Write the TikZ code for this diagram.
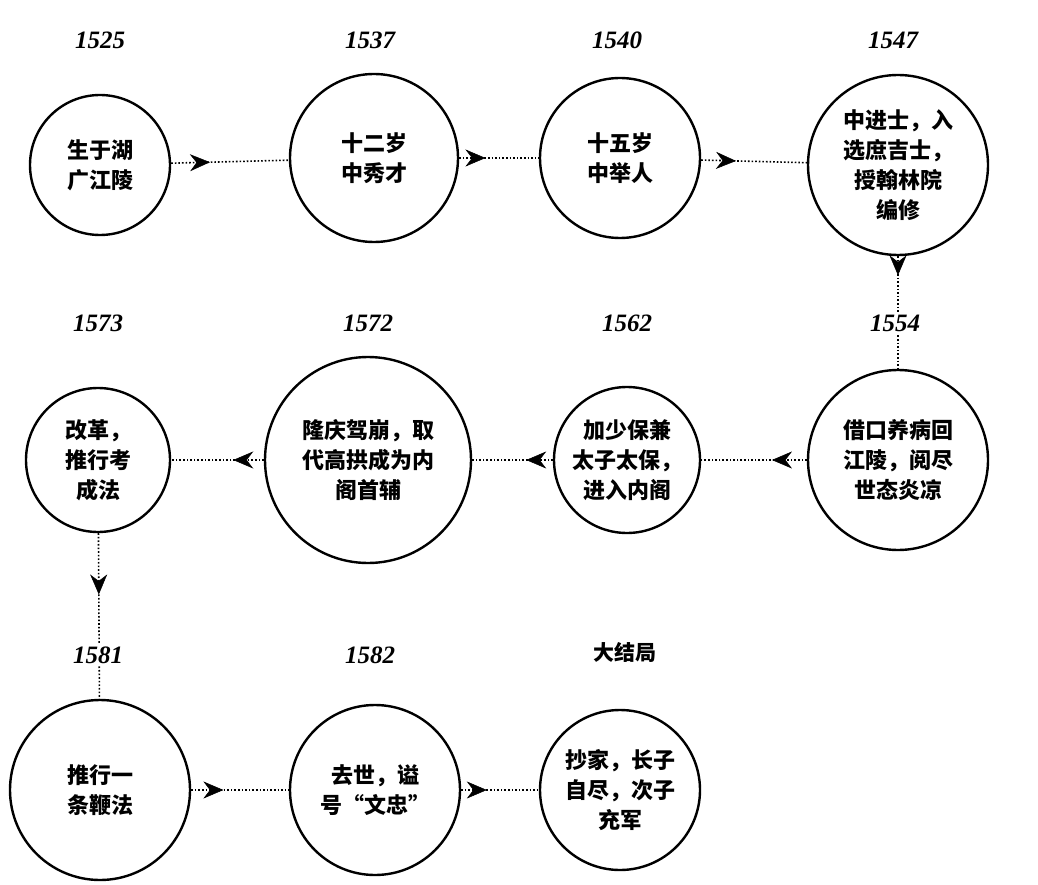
\documentclass[tikz,border=0pt]{standalone}
\usepackage{fontspec}
\newfontfamily\cjk{Noto Sans CJK SC}
\newfontfamily\yearfont{Liberation Serif}
\usetikzlibrary{arrows.meta,decorations.markings}

\tikzset{
	event/.style={circle, draw, line width=2.4pt, align=center, inner sep=0pt,
		font=\cjk\bfseries\fontsize{22}{30}\selectfont},
	year/.style={fill=white, inner sep=3pt, font=\yearfont\bfseries\itshape\fontsize{25}{28}\selectfont},
	link/.style={dotted, line width=1.6pt, postaction={decorate},
		decoration={markings, mark=at position #1 with {\arrow[solid, line width=0.5pt]{Stealth[length=20pt,width=17pt,fill=black]}}}},
	link/.default=0.33
}

\begin{document}
\begin{tikzpicture}[x=1pt,y=-1pt]
		\useasboundingbox (0,0) rectangle (1038,885);

		% circles
		\node[event, minimum size=140pt] (born) at (100,165) {生于湖\\广江陵};
		\node[event, minimum size=168pt] (xiucai) at (374,158) {十二岁\\中秀才};
		\node[event, minimum size=160pt] (juren) at (620,158) {十五岁\\中举人};
		\node[event, minimum size=180pt] (jinshi) at (898,165) {中进士，入\\选庶吉士，\\授翰林院\\编修};
		\node[event, minimum size=180pt] (jiangling) at (898,460) {借口养病回\\江陵，阅尽\\世态炎凉};
		\node[event, minimum size=146pt] (shaobao) at (627,460) {加少保兼\\太子太保，\\进入内阁};
		\node[event, minimum size=206pt] (shoufu) at (368,460) {隆庆驾崩，取\\代高拱成为内\\阁首辅};
		\node[event, minimum size=144pt] (gaige) at (98,460) {改革，\\推行考\\成法};
		\node[event, minimum size=180pt] (bianfa) at (100,790) {推行一\\条鞭法};
		\node[event, minimum size=170pt] (qushi) at (375,790) {去世，谥\\号“文忠”};
		\node[event, minimum size=160pt] (chaojia) at (620,790) {抄家，长子\\自尽，次子\\充军};

		% connectors
		\draw[link] (born) -- (xiucai);
		\draw[link] (xiucai) -- (juren);
		\draw[link] (juren) -- (jinshi);
		\draw[link=0.17] (jinshi) -- (jiangling);
		\draw[link] (jiangling) -- (shaobao);
		\draw[link] (shaobao) -- (shoufu);
		\draw[link] (shoufu) -- (gaige);
		\draw[link=0.37] (gaige) -- (bianfa);
		\draw[link] (bianfa) -- (qushi);
		\draw[link] (qushi) -- (chaojia);

		% years
		\node[year] (y1525) at (100,40) {1525};
		\node[year] (y1537) at (370,40) {1537};
		\node[year] (y1540) at (617,40) {1540};
		\node[year] (y1547) at (893,40) {1547};
		\node[year] (y1554) at (895,323) {1554};
		\node[year] (y1562) at (627,323) {1562};
		\node[year] (y1572) at (368,323) {1572};
		\node[year] (y1573) at (98,323) {1573};
		\node[year] (y1581) at (98,655) {1581};
		\node[year] (y1582) at (370,655) {1582};
		\node[year, font=\cjk\bfseries\fontsize{21}{26}\selectfont] (ending) at (625,652) {大结局};
	\end{tikzpicture}
\end{document}
